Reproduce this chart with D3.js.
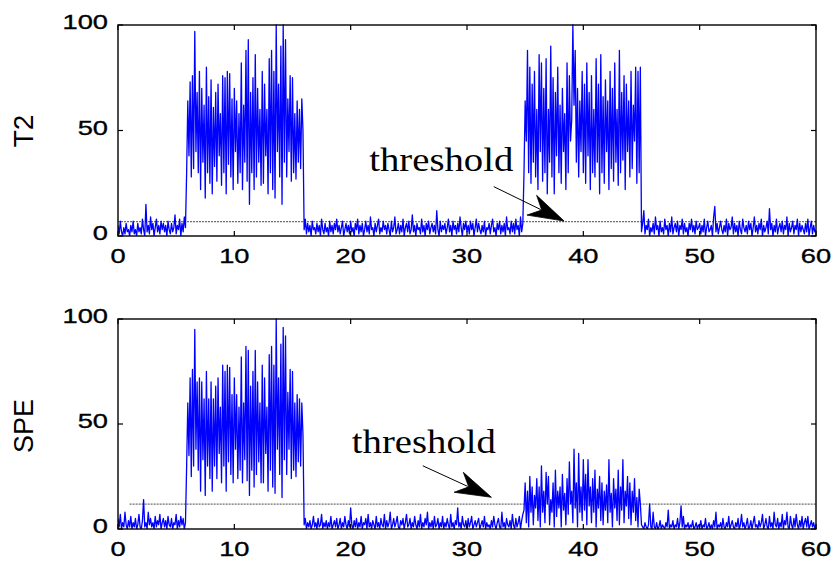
<!DOCTYPE html>
<html><head><meta charset="utf-8">
<script src="https://cdn.jsdelivr.net/npm/d3@7"></script>
<style>body{margin:0;background:#fff}</style>
</head><body><svg id="c" width="834" height="563"></svg>
<script>
// ---- data ----
const sampleStep = 0.1;          // time between samples
const xDomain = [0, 60];
const yDomain = [0, 100];
const xTickValues = [0, 10, 20, 30, 40, 50, 60];
const yTickValues = [0, 50, 100];
const panelLabels = ["T2", "SPE"];
const thresholdLabel = "threshold";

const t2Values = [
 5,1,7,2,0,4,1,6,2,3,
 0,5,2,7,1,3,0,6,2,4,
 1,8,3,0,15,2,5,1,9,3,
 6,0,4,8,2,5,1,7,3,6,
 2,5,0,7,3,1,6,2,4,10,
 1,5,3,8,0,6,2,9,4,30,
 64,38,73,28,76,32,97,40,68,30,
 78,22,70,35,62,18,80,30,66,25,
 74,20,61,33,68,26,72,38,58,24,
 76,30,75,20,78,34,77,28,65,22,
 70,40,64,25,58,30,82,22,62,35,
 88,26,93,15,68,30,75,22,86,28,
 70,35,60,24,78,25,72,38,60,20,
 84,30,88,22,78,18,100,40,72,28,
 90,15,100,35,93,28,65,40,76,26,
 75,30,58,27,64,35,60,32,65,50,
 3,8,1,6,2,5,0,7,3,4,
 1,6,2,5,0,8,3,1,6,2,
 4,0,7,2,5,1,6,3,8,2,
 5,1,4,7,0,3,6,2,5,1,
 7,2,4,0,6,3,8,1,5,2,
 6,0,3,7,2,5,1,9,3,4,
 0,6,2,5,8,1,4,2,7,3,
 5,1,6,3,0,7,2,4,9,1,
 3,6,1,5,2,8,0,4,6,2,
 7,1,3,10,2,5,0,6,3,4,
 1,8,2,5,0,6,3,7,1,4,
 6,2,5,1,12,3,0,7,2,5,
 3,6,1,4,8,2,5,0,7,3,
 5,1,6,2,9,4,0,6,3,7,
 2,5,1,7,3,6,0,4,8,2,
 6,3,1,5,2,7,0,4,3,6,
 1,5,8,2,4,0,6,3,7,1,
 5,2,6,0,9,3,4,1,7,2,
 6,1,8,3,5,0,9,2,6,30,
 64,45,88,30,80,25,72,35,78,28,
 60,22,86,40,82,26,70,30,84,20,
 60,35,90,28,75,20,68,38,80,30,
 62,25,70,40,58,22,82,30,76,45,
 55,100,62,88,35,70,28,64,40,78,
 30,72,25,82,38,68,22,76,30,60,
 28,84,35,72,20,86,30,66,25,74,
 40,64,22,78,32,70,26,82,35,60,
 24,88,30,68,36,76,22,72,40,64,
 28,78,32,62,45,80,25,78,30,80,
 2,6,12,1,5,3,8,0,4,2,
 6,1,9,3,5,0,7,2,4,1,
 8,3,5,0,6,2,9,1,4,6,
 2,7,0,5,3,8,1,6,2,4,
 0,6,3,8,2,5,1,7,3,4,
 6,1,5,2,8,0,4,7,2,3,
 5,0,9,14,2,6,1,4,7,3,
 1,5,2,8,0,6,3,4,9,1,
 6,2,5,0,7,3,1,8,4,2,
 5,1,7,3,6,0,4,9,2,5,
 1,6,3,8,0,5,2,4,7,1,
 13,3,6,0,5,2,8,1,4,6,
 2,7,1,5,3,9,0,6,2,4,
 7,1,5,3,8,0,6,2,5,3,
 1,6,2,8,0,4,7,1,5,2,
 3
];

const speValues = [
 5,1,7,0,3,1,8,2,0,4,
 1,6,0,3,1,5,0,2,7,1,
 0,4,14,1,3,0,8,2,5,1,
 3,0,6,1,4,2,7,0,3,5,
 1,4,0,6,2,1,5,0,3,2,
 7,0,4,1,6,2,5,0,3,30,
 60,35,72,25,76,30,95,38,70,28,
 72,18,70,33,62,16,75,30,62,24,
 70,18,62,30,68,24,72,36,58,22,
 78,30,75,18,78,32,77,26,64,22,
 72,38,64,24,58,28,82,22,60,33,
 87,23,85,16,68,28,75,20,85,26,
 70,32,60,22,78,22,72,36,58,18,
 83,28,87,20,78,17,100,38,72,26,
 88,15,96,33,92,26,65,38,76,24,
 75,28,60,25,64,32,62,30,60,45,
 2,5,0,3,1,4,0,2,6,1,
 3,0,5,1,2,7,0,3,1,4,
 0,3,1,6,0,2,4,1,5,0,
 2,5,0,3,1,6,2,0,4,1,
 10,2,0,4,1,5,0,3,1,6,
 0,3,2,5,0,7,1,3,0,4,
 2,0,6,1,3,0,5,2,1,7,
 0,4,1,3,8,0,2,5,1,3,
 6,1,0,4,2,5,0,3,7,1,
 2,5,0,3,1,6,2,0,4,1,
 7,0,3,1,5,2,8,0,3,1,
 4,0,6,1,2,5,0,3,1,6,
 0,3,1,5,2,0,7,1,3,0,
 4,2,10,1,3,0,6,2,1,4,
 0,5,1,3,6,0,2,4,1,3,
 5,0,2,4,1,6,0,3,1,2,
 0,4,1,6,2,0,3,5,1,0,
 8,1,3,0,5,2,1,4,0,7,
 2,0,5,1,3,6,0,4,7,9,
 22,3,18,1,25,8,20,2,16,10,
 24,4,20,1,30,8,18,3,27,12,
 25,2,14,8,22,1,28,6,18,10,
 20,1,26,9,17,2,24,7,32,12,
 18,3,38,10,22,1,36,8,20,4,
 33,9,26,2,33,11,20,3,24,8,
 28,1,19,10,25,4,22,2,18,9,
 21,3,33,8,17,1,24,10,19,4,
 28,2,20,9,33,3,18,11,25,5,
 22,2,18,8,24,4,15,1,19,12,
 2,1,0,3,1,0,2,12,1,0,
 8,1,0,3,0,1,4,0,2,1,
 0,3,1,9,0,2,1,4,0,2,
 1,5,0,3,11,1,6,0,2,1,
 3,0,2,1,4,0,1,3,0,2,
 1,4,0,2,1,5,0,1,3,0,
 2,0,4,1,8,0,2,1,3,0,
 5,1,0,3,1,6,0,2,4,1,
 0,3,1,5,0,2,7,1,3,0,
 2,5,0,1,4,0,3,6,1,2,
 0,4,1,3,7,0,2,5,1,0,
 6,1,3,0,8,2,1,5,0,3,
 1,7,0,4,2,8,1,0,6,2,
 0,5,1,7,2,0,4,1,6,0,
 3,5,1,6,0,2,4,1,3,0,
 2
];

const thresholds = [6.8, 11.8];
const thresholdStarts = [0, 1];
// annotation anchors, in data units: [text x, text baseline y], arrow tail, arrow tip
const labelAnchors = [[21.6, 30.8], [20.1, 36.2]];
const arrowTails = [[32.3, 23.4], [26.2, 30.1]];
const arrowTips = [[38.35, 7.1], [32.1, 15.1]];

// ---- layout ----
const svg = d3.select("#c");
const plotLeft = 118, plotRight = 816;
const panelBoxes = [[25, 236], [319, 529]];
const labelCenters = [131, 426];
const labelSizes = [28, 27];

const sans = "'Liberation Sans', Arial, sans-serif";
const serif = "'Liberation Serif', 'Times New Roman', serif";

function drawPanel(k, values) {
  const [top, bottom] = panelBoxes[k];
  const x = d3.scaleLinear().domain(xDomain).range([plotLeft, plotRight]);
  const y = d3.scaleLinear().domain(yDomain).range([bottom, top]);
  const g = svg.append("g");

  const clipId = "clip" + k;
  g.append("clipPath").attr("id", clipId).append("rect")
    .attr("x", plotLeft).attr("y", top - 1)
    .attr("width", plotRight - plotLeft).attr("height", bottom - top + 1);

  // threshold line
  g.append("line")
    .attr("x1", x(thresholdStarts[k])).attr("x2", x(xDomain[1]))
    .attr("y1", y(thresholds[k])).attr("y2", y(thresholds[k]))
    .attr("stroke", "#6e6e6e").attr("stroke-width", 1.2)
    .attr("stroke-dasharray", "2,1");

  // data
  g.append("path").datum(values)
    .attr("clip-path", `url(#${clipId})`)
    .attr("fill", "none").attr("stroke", "#0000ff").attr("stroke-width", 1.3)
    .attr("stroke-linejoin", "round")
    .attr("d", d3.line().x((d, i) => x(i * sampleStep)).y(d => y(d)));

  // frame
  g.append("rect").attr("x", plotLeft).attr("y", top)
    .attr("width", plotRight - plotLeft).attr("height", bottom - top)
    .attr("fill", "none").attr("stroke", "#000").attr("stroke-width", 1.4);

  const tl = 5;
  const labelStyle = sel => sel.attr("font-family", sans).attr("font-size", 21)
      .attr("fill", "#000").attr("stroke", "#000").attr("stroke-width", 0.35);
  xTickValues.forEach(v => {
    g.append("line").attr("x1", x(v)).attr("x2", x(v)).attr("y1", bottom).attr("y2", bottom - tl)
      .attr("stroke", "#000").attr("stroke-width", 1.2);
    g.append("line").attr("x1", x(v)).attr("x2", x(v)).attr("y1", top).attr("y2", top + tl)
      .attr("stroke", "#000").attr("stroke-width", 1.2);
    g.append("text").text(v)
      .attr("transform", `translate(${x(v)},${bottom + 27}) scale(1.3,1)`)
      .attr("text-anchor", "middle").call(labelStyle);
  });
  yTickValues.forEach(v => {
    g.append("line").attr("x1", plotLeft).attr("x2", plotLeft + tl).attr("y1", y(v)).attr("y2", y(v))
      .attr("stroke", "#000").attr("stroke-width", 1.2);
    g.append("line").attr("x1", plotRight).attr("x2", plotRight - tl).attr("y1", y(v)).attr("y2", y(v))
      .attr("stroke", "#000").attr("stroke-width", 1.2);
    g.append("text").text(v)
      .attr("transform", `translate(${plotLeft - 10},${y(v) + 4}) scale(1.3,1)`)
      .attr("text-anchor", "end").call(labelStyle);
  });

  // y label
  g.append("text").text(panelLabels[k])
    .attr("transform", `translate(33,${labelCenters[k]}) rotate(-90)`)
    .attr("text-anchor", "middle").attr("font-family", sans).attr("font-size", labelSizes[k])
    .attr("fill", "#000");

  // annotation text
  g.append("text").text(thresholdLabel)
    .attr("x", x(labelAnchors[k][0])).attr("y", y(labelAnchors[k][1]))
    .attr("font-family", serif).attr("font-size", 34)
    .attr("textLength", 144).attr("lengthAdjust", "spacingAndGlyphs")
    .attr("fill", "#000");

  // arrow
  const tx = x(arrowTails[k][0]), ty = y(arrowTails[k][1]);
  const hx = x(arrowTips[k][0]), hy = y(arrowTips[k][1]);
  const len = Math.hypot(hx - tx, hy - ty);
  const ux = (hx - tx) / len, uy = (hy - ty) / len;
  const nx = -uy, ny = ux;
  g.append("line").attr("x1", tx).attr("y1", ty)
    .attr("x2", hx - ux * 26).attr("y2", hy - uy * 26)
    .attr("stroke", "#000").attr("stroke-width", 1);
  const pt = (a, b) => [hx + ux * a + nx * b, hy + uy * a + ny * b];
  const head = [pt(0, 0), pt(-36, 11), pt(-25, 0), pt(-36, -11)];
  g.append("path").attr("d", "M" + head.map(p => p.join(",")).join("L") + "Z")
    .attr("fill", "#000").attr("stroke", "#000").attr("stroke-width", 0.8);
}

drawPanel(0, t2Values);
drawPanel(1, speValues);
</script>
</body></html>
